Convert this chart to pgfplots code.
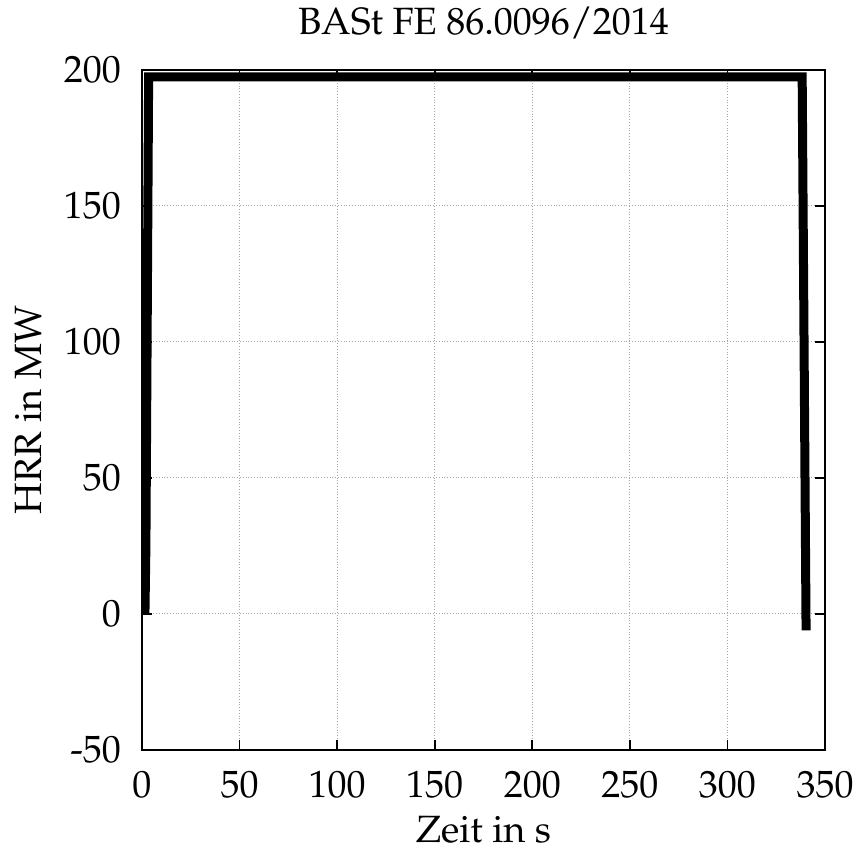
\documentclass[border=0pt]{standalone}
\usepackage[T1]{fontenc}
\usepackage{mathpazo}
\usepackage{pgfplots}
\pgfplotsset{compat=1.18}

\begin{document}
\begin{tikzpicture}
\fontsize{19}{23}\selectfont
\begin{axis}[
  scale only axis,
  width=341.5pt, height=340pt,
  xmin=0, xmax=350, ymin=-50, ymax=200,
  xtick={0,50,...,350},
  xticklabels={0,50,100,150,200,250,300,350},
  ytick={-50,0,...,200},
  yticklabels={-50,0,50,100,150,200},
  tick align=inside,
  major tick length=5pt,
  tick style={line width=0.8pt, black},
  axis line style={line width=1pt},
  grid=major,
  major grid style={densely dotted, gray!70, line width=0.5pt},
  title={BASt FE 86.0096/2014},
  title style={yshift=3pt},
  xlabel={Zeit in s},
  ylabel={HRR in MW},
  xlabel style={yshift=4pt},
  ylabel style={yshift=-1.5pt},
  xticklabel style={yshift=-4pt},
  yticklabel style={xshift=-4pt},
  every axis label/.append style={font=\fontsize{19}{23}\selectfont},
  ticklabel style={font=\fontsize{19}{23}\selectfont},
]
\addplot[black, line width=4.5pt, line join=miter, line cap=butt] coordinates {
  (1.5,0) (2.0,25) (3.4,197.5) (60,197.5) (150,197.5) (250,197.5) (338.3,197.5) (340.3,-6)
};
\end{axis}
\pgfresetboundingbox
\path (current axis.south west) ++(-71pt,-52.5pt) rectangle ([shift={(14.5pt,35pt)}]current axis.north east);
\end{tikzpicture}
\end{document}
